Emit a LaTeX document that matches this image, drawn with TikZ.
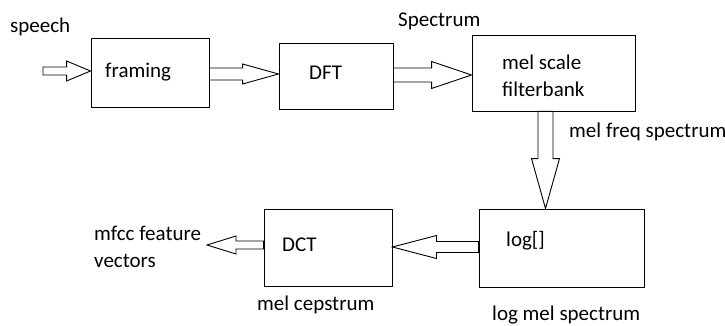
\documentclass[tikz,border=0pt]{standalone}
\usepackage{fontspec}
\setmainfont{Carlito}
\usetikzlibrary{calc}

\newcommand{\blockarrow}[5]{%
  \coordinate (ba) at #1;
  \coordinate (bb) at #2;
  \coordinate (bh) at ($(bb)!#5!(ba)$);
  \draw[outline] ($(ba)!#3!90:(bb)$) -- ($(bh)!#3!90:(bb)$) -- ($(bh)!#4!90:(bb)$)
    -- (bb) -- ($(bh)!#4!-90:(bb)$) -- ($(bh)!#3!-90:(bb)$) -- ($(ba)!#3!-90:(bb)$) -- cycle;
}

\begin{document}
\begin{tikzpicture}[
  x=1pt, y=-1pt,
  every node/.style={font=\fontsize{21}{27}\selectfont},
  box/.style={draw, line width=0.9pt, inner sep=0pt},
  label/.style={anchor=west, inner sep=0pt, align=left},
  outline/.style={draw, fill=white, line width=0.9pt, line join=miter}
]
  \useasboundingbox (0,0) rectangle (725,326);

  \node[box, minimum width=118pt, minimum height=69pt] (framing) at (150,72.5) {};
  \node[box, minimum width=114pt, minimum height=66pt] (DFT) at (336,76) {};
  \node[box, minimum width=163pt, minimum height=76pt] (melbank) at (553.5,73) {};
  \node[box, minimum width=165pt, minimum height=78pt] (logbox) at (561.5,248) {};
  \node[box, minimum width=128pt, minimum height=77pt] (DCT) at (328,247.5) {};

  \node[label] (speech) at (10,27) {speech};
  \node[label] (framingtext) at (105,72) {framing};
  \node[label] (DFTtext) at (309,73) {DFT};
  \node[label] (spectrum) at (398,21) {Spectrum};
  \node[label] (melbanktext) at (502,76) {mel scale\\filterbank};
  \node[label] (melfreq) at (569,132) {mel freq spectrum};
  \node[label] (logtext) at (506,241) {log[]};
  \node[label] (logmel) at (492,315) {log mel spectrum};
  \node[label] (DCTtext) at (282,245) {DCT};
  \node[label] (cepstrum) at (257,305) {mel cepstrum};
  \node[label] (mfcc) at (94,247) {mfcc feature\\vectors};

  \coordinate (in) at (43,71);
  \coordinate (out) at (207,245);

  \blockarrow{(in)}{(framing.west |- in)}{4pt}{10pt}{24pt}
  \blockarrow{(framing.east |- 0,74)}{(DFT.west |- 0,74)}{6pt}{10pt}{36pt}
  \blockarrow{(DFT.east |- 0,75)}{(melbank.west |- 0,75)}{7pt}{13.5pt}{40pt}
  \blockarrow{(melbank.south -| 545.5,0)}{(logbox.north -| 545.5,0)}{7.5pt}{14pt}{50pt}
  \blockarrow{(logbox.west |- 0,247)}{(DCT.east |- 0,247)}{5.5pt}{11.5pt}{44pt}
  \blockarrow{(DCT.west |- 0,245)}{(out)}{4pt}{9pt}{29pt}
\end{tikzpicture}
\end{document}
